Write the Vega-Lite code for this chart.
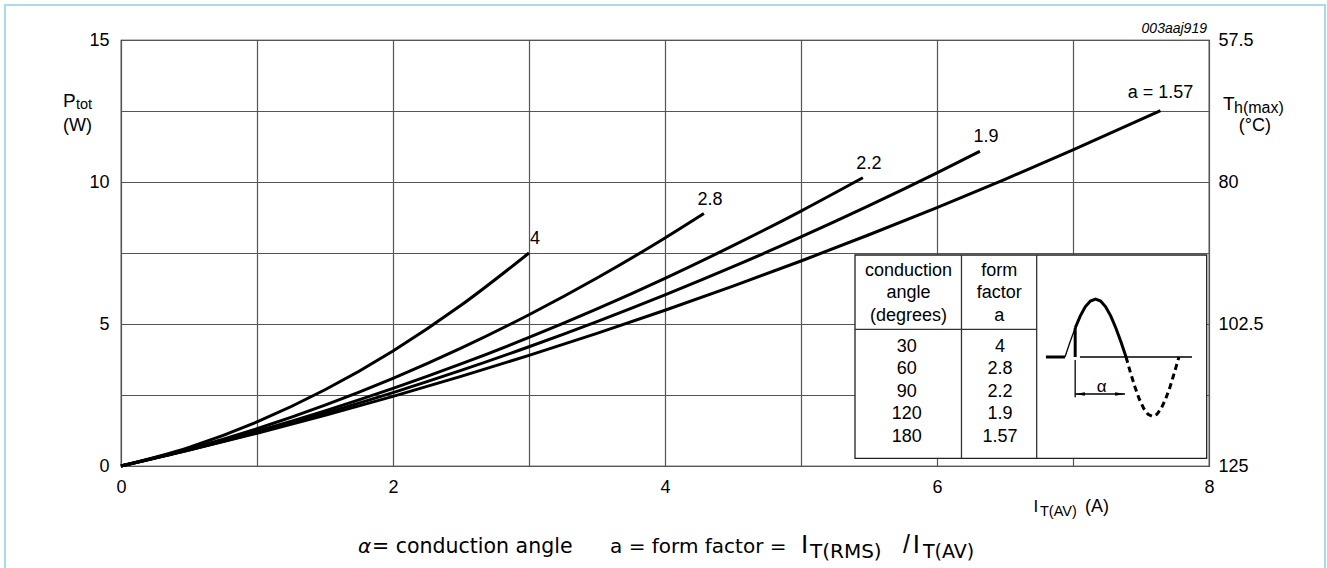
{
  "$schema": "https://vega.github.io/schema/vega-lite/v6.json",
  "width": 1088,
  "height": 426,
  "autosize": "none",
  "padding": {"left": 121, "top": 40, "right": 118, "bottom": 102},
  "background": "white",
  "config": {
    "font": "Liberation Sans",
    "view": {"stroke": "#000", "strokeWidth": 1.2},
    "text": {"font": "Liberation Sans", "fontSize": 18, "color": "black"},
    "axis": {"labelFont": "Liberation Sans", "labelFontSize": 18, "labelColor": "black", "ticks": false, "tickSize": 0, "domain": false, "title": null, "gridColor": "#555", "gridWidth": 1.2, "gridOpacity": 1, "labelFlush": false}
  },
  "data": {"values": [{}]},
  "datasets": {
    "curves": [
      {"a": "4", "I": 0, "P": 0}, {"a": "4", "I": 0.5, "P": 0.658}, {"a": "4", "I": 1, "P": 1.553}, {"a": "4", "I": 1.5, "P": 2.684}, {"a": "4", "I": 2, "P": 4.052}, {"a": "4", "I": 2.5, "P": 5.658}, {"a": "4", "I": 3, "P": 7.5},
      {"a": "2.8", "I": 0, "P": 0}, {"a": "2.8", "I": 0.5, "P": 0.598}, {"a": "2.8", "I": 1, "P": 1.311}, {"a": "2.8", "I": 1.5, "P": 2.141}, {"a": "2.8", "I": 2, "P": 3.086}, {"a": "2.8", "I": 2.5, "P": 4.148}, {"a": "2.8", "I": 3, "P": 5.326}, {"a": "2.8", "I": 3.5, "P": 6.619}, {"a": "2.8", "I": 4, "P": 8.029}, {"a": "2.8", "I": 4.286, "P": 8.89},
      {"a": "2.2", "I": 0, "P": 0}, {"a": "2.2", "I": 0.5, "P": 0.575}, {"a": "2.2", "I": 1, "P": 1.222}, {"a": "2.2", "I": 1.5, "P": 1.941}, {"a": "2.2", "I": 2, "P": 2.731}, {"a": "2.2", "I": 2.5, "P": 3.593}, {"a": "2.2", "I": 3, "P": 4.526}, {"a": "2.2", "I": 3.5, "P": 5.531}, {"a": "2.2", "I": 4, "P": 6.608}, {"a": "2.2", "I": 4.5, "P": 7.757}, {"a": "2.2", "I": 5, "P": 8.977}, {"a": "2.2", "I": 5.455, "P": 10.15},
      {"a": "1.9", "I": 0, "P": 0}, {"a": "1.9", "I": 0.5, "P": 0.566}, {"a": "1.9", "I": 1, "P": 1.186}, {"a": "1.9", "I": 1.5, "P": 1.859}, {"a": "1.9", "I": 2, "P": 2.585}, {"a": "1.9", "I": 2.5, "P": 3.365}, {"a": "1.9", "I": 3, "P": 4.199}, {"a": "1.9", "I": 3.5, "P": 5.086}, {"a": "1.9", "I": 4, "P": 6.026}, {"a": "1.9", "I": 4.5, "P": 7.019}, {"a": "1.9", "I": 5, "P": 8.066}, {"a": "1.9", "I": 5.5, "P": 9.167}, {"a": "1.9", "I": 6, "P": 10.321}, {"a": "1.9", "I": 6.316, "P": 11.08},
      {"a": "1.57", "I": 0, "P": 0}, {"a": "1.57", "I": 0.5, "P": 0.558}, {"a": "1.57", "I": 1, "P": 1.152}, {"a": "1.57", "I": 1.5, "P": 1.783}, {"a": "1.57", "I": 2, "P": 2.45}, {"a": "1.57", "I": 2.5, "P": 3.154}, {"a": "1.57", "I": 3, "P": 3.894}, {"a": "1.57", "I": 3.5, "P": 4.67}, {"a": "1.57", "I": 4, "P": 5.483}, {"a": "1.57", "I": 4.5, "P": 6.333}, {"a": "1.57", "I": 5, "P": 7.219}, {"a": "1.57", "I": 5.5, "P": 8.142}, {"a": "1.57", "I": 6, "P": 9.101}, {"a": "1.57", "I": 6.5, "P": 10.096}, {"a": "1.57", "I": 7, "P": 11.128}, {"a": "1.57", "I": 7.643, "P": 12.51}
    ],
    "labels": [
      {"label": "4", "I": 3, "P": 7.5},
      {"label": "2.8", "I": 4.286, "P": 8.89},
      {"label": "2.2", "I": 5.455, "P": 10.15},
      {"label": "1.9", "I": 6.316, "P": 11.08}
    ],
    "toplabel": [
      {"label": "a = 1.57", "I": 7.643, "P": 12.51}
    ],
    "wave": [
      {"part": "base", "o": 0, "x": 6.801, "P": 3.838}, {"part": "base", "o": 1, "x": 6.941, "P": 3.838},
      {"part": "rise", "o": 0, "x": 6.941, "P": 3.838}, {"part": "rise", "o": 1, "x": 6.978, "P": 4.366}, {"part": "rise", "o": 2, "x": 7.016, "P": 4.858},
      {"part": "fire", "o": 0, "x": 7.016, "P": 3.838}, {"part": "fire", "o": 1, "x": 7.016, "P": 4.858},
      {"part": "pos", "o": 0, "x": 7.016, "P": 4.858}, {"part": "pos", "o": 1, "x": 7.053, "P": 5.28}, {"part": "pos", "o": 2, "x": 7.09, "P": 5.605}, {"part": "pos", "o": 3, "x": 7.128, "P": 5.808}, {"part": "pos", "o": 4, "x": 7.166, "P": 5.878}, {"part": "pos", "o": 5, "x": 7.203, "P": 5.808}, {"part": "pos", "o": 6, "x": 7.24, "P": 5.605}, {"part": "pos", "o": 7, "x": 7.278, "P": 5.28}, {"part": "pos", "o": 8, "x": 7.315, "P": 4.858}, {"part": "pos", "o": 9, "x": 7.353, "P": 4.366}, {"part": "pos", "o": 10, "x": 7.39, "P": 3.838},
      {"part": "neg", "o": 0, "x": 7.39, "P": 3.838}, {"part": "neg", "o": 1, "x": 7.422, "P": 3.297}, {"part": "neg", "o": 2, "x": 7.455, "P": 2.793}, {"part": "neg", "o": 3, "x": 7.487, "P": 2.36}, {"part": "neg", "o": 4, "x": 7.52, "P": 2.028}, {"part": "neg", "o": 5, "x": 7.552, "P": 1.819}, {"part": "neg", "o": 6, "x": 7.585, "P": 1.748}, {"part": "neg", "o": 7, "x": 7.617, "P": 1.819}, {"part": "neg", "o": 8, "x": 7.649, "P": 2.028}, {"part": "neg", "o": 9, "x": 7.681, "P": 2.36}, {"part": "neg", "o": 10, "x": 7.714, "P": 2.793}, {"part": "neg", "o": 11, "x": 7.746, "P": 3.297}, {"part": "neg", "o": 12, "x": 7.779, "P": 3.838},
      {"part": "axis", "o": 0, "x": 7.051, "P": 3.838}, {"part": "axis", "o": 1, "x": 7.875, "P": 3.838},
      {"part": "dimtick", "o": 0, "x": 7.016, "P": 3.73}, {"part": "dimtick", "o": 1, "x": 7.016, "P": 2.42},
      {"part": "dim", "o": 0, "x": 7.016, "P": 2.535}, {"part": "dim", "o": 1, "x": 7.382, "P": 2.535}
    ]
  },
  "layer": [
    {
      "mark": {"type": "rect", "fill": "white", "fillOpacity": 0, "stroke": "#a8dde6", "strokeWidth": 2},
      "encoding": {
        "x": {"datum": -0.853, "type": "quantitative"},
        "x2": {"datum": 8.853},
        "y": {"datum": 16.232, "type": "quantitative", "axis": null},
        "y2": {"datum": -3.9}
      }
    },
    {
      "data": {"name": "curves"},
      "mark": {"type": "line", "color": "black", "strokeWidth": 3, "interpolate": "monotone"},
      "encoding": {
        "x": {"field": "I", "type": "quantitative", "scale": {"domain": [0, 8], "nice": false, "zero": false},
              "axis": {"values": [0, 1, 2, 3, 4, 5, 6, 7, 8], "format": "d", "grid": true, "labelPadding": 12, "labelFlush": false, "labelExpr": "datum.value % 2 === 0 ? datum.label : ''"}},
        "y": {"field": "P", "type": "quantitative", "scale": {"domain": [0, 15], "nice": false, "zero": false},
              "axis": {"orient": "left", "values": [0, 2.5, 5, 7.5, 10, 12.5, 15], "grid": true, "labelPadding": 12, "labelExpr": "datum.value % 5 === 0 ? format(datum.value, 'd') : ''"}},
        "detail": {"field": "a"},
        "order": {"field": "I", "type": "quantitative"}
      }
    },
    {
      "data": {"name": "curves"},
      "mark": {"type": "line", "opacity": 0},
      "encoding": {
        "x": {"field": "I", "type": "quantitative"},
        "y": {"field": "P", "type": "quantitative",
              "axis": {"orient": "right", "values": [0, 5, 10, 15], "grid": false, "labelPadding": 9, "labelAlign": "left", "labelExpr": "'' + (125 - 4.5 * datum.value)"}},
        "detail": {"field": "a"}
      }
    },
    {
      "mark": {"type": "rect", "fill": "white", "stroke": "#222", "strokeWidth": 1.3},
      "encoding": {
        "x": {"datum": 5.397, "type": "quantitative"},
        "x2": {"datum": 7.983},
        "y": {"datum": 7.43, "type": "quantitative", "axis": null},
        "y2": {"datum": 0.27}
      }
    },
    {
      "mark": {"type": "rule", "color": "#333", "strokeWidth": 1.3},
      "encoding": {
        "x": {"datum": 6.18, "type": "quantitative"},
        "y": {"datum": 7.43, "type": "quantitative", "axis": null},
        "y2": {"datum": 0.27}
      }
    },
    {
      "mark": {"type": "rule", "color": "#333", "strokeWidth": 1.3},
      "encoding": {
        "x": {"datum": 6.733, "type": "quantitative"},
        "y": {"datum": 7.43, "type": "quantitative", "axis": null},
        "y2": {"datum": 0.27}
      }
    },
    {
      "mark": {"type": "rule", "color": "#333", "strokeWidth": 1.3},
      "encoding": {
        "x": {"datum": 5.397, "type": "quantitative"},
        "x2": {"datum": 6.733},
        "y": {"datum": 4.813, "type": "quantitative", "axis": null}
      }
    },
    {
      "mark": {"type": "text", "text": ["conduction", "angle", "(degrees)"], "lineHeight": 22.5, "align": "center", "baseline": "middle", "fontSize": 18},
      "encoding": {
        "x": {"datum": 5.79, "type": "quantitative"},
        "y": {"datum": 6.88, "type": "quantitative", "axis": null}
      }
    },
    {
      "mark": {"type": "text", "text": ["form", "factor", "a"], "lineHeight": 22.5, "align": "center", "baseline": "middle", "fontSize": 18},
      "encoding": {
        "x": {"datum": 6.457, "type": "quantitative"},
        "y": {"datum": 6.88, "type": "quantitative", "axis": null}
      }
    },
    {
      "mark": {"type": "text", "text": ["30", "60", "90", "120", "180"], "lineHeight": 22.5, "align": "center", "baseline": "middle", "fontSize": 18},
      "encoding": {
        "x": {"datum": 5.777, "type": "quantitative"},
        "y": {"datum": 4.2, "type": "quantitative", "axis": null}
      }
    },
    {
      "mark": {"type": "text", "text": ["4", "2.8", "2.2", "1.9", "1.57"], "lineHeight": 22.5, "align": "center", "baseline": "middle", "fontSize": 18},
      "encoding": {
        "x": {"datum": 6.463, "type": "quantitative"},
        "y": {"datum": 4.2, "type": "quantitative", "axis": null}
      }
    },
    {
      "data": {"name": "wave"},
      "transform": [{"filter": "datum.part === 'base' || datum.part === 'fire' || datum.part === 'pos'"}],
      "mark": {"type": "line", "color": "black", "strokeWidth": 3},
      "encoding": {
        "x": {"field": "x", "type": "quantitative"},
        "y": {"field": "P", "type": "quantitative", "axis": null},
        "detail": {"field": "part"},
        "order": {"field": "o", "type": "quantitative"}
      }
    },
    {
      "data": {"name": "wave"},
      "transform": [{"filter": "datum.part === 'rise' || datum.part === 'axis' || datum.part === 'dimtick' || datum.part === 'dim'"}],
      "mark": {"type": "line", "color": "black", "strokeWidth": 1.3},
      "encoding": {
        "x": {"field": "x", "type": "quantitative"},
        "y": {"field": "P", "type": "quantitative", "axis": null},
        "detail": {"field": "part"},
        "order": {"field": "o", "type": "quantitative"}
      }
    },
    {
      "data": {"name": "wave"},
      "transform": [{"filter": "datum.part === 'neg'"}],
      "mark": {"type": "line", "color": "black", "strokeWidth": 3, "strokeDash": [6, 4]},
      "encoding": {
        "x": {"field": "x", "type": "quantitative"},
        "y": {"field": "P", "type": "quantitative", "axis": null},
        "order": {"field": "o", "type": "quantitative"}
      }
    },
    {
      "mark": {"type": "point", "shape": "M -1 0 L 1 -0.35 L 1 0.35 Z", "size": 100, "filled": true, "color": "black", "opacity": 1},
      "encoding": {
        "x": {"datum": 7.051, "type": "quantitative"},
        "y": {"datum": 2.535, "type": "quantitative", "axis": null}
      }
    },
    {
      "mark": {"type": "point", "shape": "M 1 0 L -1 -0.35 L -1 0.35 Z", "size": 100, "filled": true, "color": "black", "opacity": 1},
      "encoding": {
        "x": {"datum": 7.346, "type": "quantitative"},
        "y": {"datum": 2.535, "type": "quantitative", "axis": null}
      }
    },
    {
      "mark": {"type": "text", "text": "α", "align": "center", "baseline": "middle", "fontSize": 17},
      "encoding": {
        "x": {"datum": 7.211, "type": "quantitative"},
        "y": {"datum": 2.792, "type": "quantitative", "axis": null}
      }
    },
    {
      "data": {"name": "labels"},
      "mark": {"type": "text", "align": "center", "baseline": "middle", "dx": 6, "dy": -14, "fontSize": 18},
      "encoding": {
        "x": {"field": "I", "type": "quantitative"},
        "y": {"field": "P", "type": "quantitative", "axis": null},
        "text": {"field": "label"}
      }
    },
    {
      "data": {"name": "toplabel"},
      "mark": {"type": "text", "align": "center", "baseline": "middle", "dx": 0, "dy": -18, "fontSize": 18},
      "encoding": {
        "x": {"field": "I", "type": "quantitative"},
        "y": {"field": "P", "type": "quantitative", "axis": null},
        "text": {"field": "label"}
      }
    },
    {
      "mark": {"type": "text", "text": "P", "align": "left", "baseline": "alphabetic", "fontSize": 19},
      "encoding": {"x": {"datum": -0.426, "type": "quantitative"}, "y": {"datum": 12.641, "type": "quantitative", "axis": null}}
    },
    {
      "mark": {"type": "text", "text": "tot", "align": "left", "baseline": "alphabetic", "fontSize": 14.5},
      "encoding": {"x": {"datum": -0.331, "type": "quantitative"}, "y": {"datum": 12.57, "type": "quantitative", "axis": null}}
    },
    {
      "mark": {"type": "text", "text": "(W)", "align": "left", "baseline": "alphabetic", "fontSize": 18},
      "encoding": {"x": {"datum": -0.426, "type": "quantitative"}, "y": {"datum": 11.796, "type": "quantitative", "axis": null}}
    },
    {
      "mark": {"type": "text", "text": "T", "align": "left", "baseline": "alphabetic", "fontSize": 19},
      "encoding": {"x": {"datum": 8.103, "type": "quantitative"}, "y": {"datum": 12.535, "type": "quantitative", "axis": null}}
    },
    {
      "mark": {"type": "text", "text": "h(max)", "align": "left", "baseline": "alphabetic", "fontSize": 16},
      "encoding": {"x": {"datum": 8.184, "type": "quantitative"}, "y": {"datum": 12.43, "type": "quantitative", "axis": null}}
    },
    {
      "mark": {"type": "text", "text": "(°C)", "align": "center", "baseline": "alphabetic", "fontSize": 18},
      "encoding": {"x": {"datum": 8.338, "type": "quantitative"}, "y": {"datum": 11.796, "type": "quantitative", "axis": null}}
    },
    {
      "mark": {"type": "text", "text": "003aaj919", "align": "right", "baseline": "alphabetic", "fontSize": 14, "fontStyle": "italic"},
      "encoding": {"x": {"datum": 7.985, "type": "quantitative"}, "y": {"datum": 15.246, "type": "quantitative", "axis": null}}
    },
    {
      "mark": {"type": "text", "text": "I", "align": "left", "baseline": "alphabetic", "fontSize": 17},
      "encoding": {"x": {"datum": 6.71, "type": "quantitative"}, "y": {"datum": -1.62, "type": "quantitative", "axis": null}}
    },
    {
      "mark": {"type": "text", "text": "T(AV)", "align": "left", "baseline": "alphabetic", "fontSize": 14.5},
      "encoding": {"x": {"datum": 6.757, "type": "quantitative"}, "y": {"datum": -1.761, "type": "quantitative", "axis": null}}
    },
    {
      "mark": {"type": "text", "text": "(A)", "align": "left", "baseline": "alphabetic", "fontSize": 18},
      "encoding": {"x": {"datum": 7.088, "type": "quantitative"}, "y": {"datum": -1.62, "type": "quantitative", "axis": null}}
    },
    {
      "mark": {"type": "text", "text": "α", "align": "left", "baseline": "alphabetic", "fontSize": 20, "font": "DejaVu Sans", "fontStyle": "italic"},
      "encoding": {"x": {"datum": 1.743, "type": "quantitative"}, "y": {"datum": -3.07, "type": "quantitative", "axis": null}}
    },
    {
      "mark": {"type": "text", "text": "= conduction angle", "align": "left", "baseline": "alphabetic", "fontSize": 20.5, "font": "DejaVu Sans"},
      "encoding": {"x": {"datum": 1.846, "type": "quantitative"}, "y": {"datum": -3.07, "type": "quantitative", "axis": null}}
    },
    {
      "mark": {"type": "text", "text": "a = form factor =", "align": "left", "baseline": "alphabetic", "fontSize": 20, "font": "DejaVu Sans"},
      "encoding": {"x": {"datum": 3.596, "type": "quantitative"}, "y": {"datum": -3.07, "type": "quantitative", "axis": null}}
    },
    {
      "mark": {"type": "text", "text": "I", "align": "left", "baseline": "alphabetic", "fontSize": 26},
      "encoding": {"x": {"datum": 5.0, "type": "quantitative"}, "y": {"datum": -3.07, "type": "quantitative", "axis": null}}
    },
    {
      "mark": {"type": "text", "text": "T(RMS)", "align": "left", "baseline": "alphabetic", "fontSize": 20, "font": "DejaVu Sans"},
      "encoding": {"x": {"datum": 5.066, "type": "quantitative"}, "y": {"datum": -3.24, "type": "quantitative", "axis": null}}
    },
    {
      "mark": {"type": "text", "text": "/", "align": "center", "baseline": "alphabetic", "fontSize": 25},
      "encoding": {"x": {"datum": 5.776, "type": "quantitative"}, "y": {"datum": -3.07, "type": "quantitative", "axis": null}}
    },
    {
      "mark": {"type": "text", "text": "I", "align": "left", "baseline": "alphabetic", "fontSize": 26},
      "encoding": {"x": {"datum": 5.822, "type": "quantitative"}, "y": {"datum": -3.07, "type": "quantitative", "axis": null}}
    },
    {
      "mark": {"type": "text", "text": "T(AV)", "align": "left", "baseline": "alphabetic", "fontSize": 19, "font": "DejaVu Sans"},
      "encoding": {"x": {"datum": 5.897, "type": "quantitative"}, "y": {"datum": -3.24, "type": "quantitative", "axis": null}}
    }
  ],
  "resolve": {"axis": {"y": "independent"}}
}
